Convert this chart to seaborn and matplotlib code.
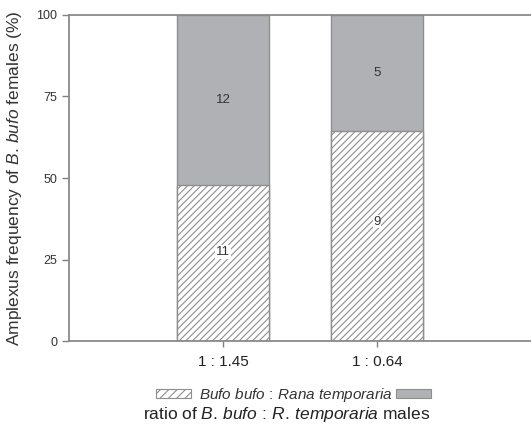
import matplotlib
matplotlib.use('Agg')
import matplotlib.pyplot as plt
import seaborn as sns
import pandas as pd
from matplotlib.patches import Patch

# данные: число пар в амплексусе
ratios = ['1 : 1.45', '1 : 0.64']
bufo_counts = [11, 9]
rana_counts = [12, 5]

df = pd.DataFrame({'ratio': ratios, 'bufo': bufo_counts, 'rana': rana_counts})
df['total'] = df['bufo'] + df['rana']
df['bufo_pct'] = 100 * df['bufo'] / df['total']
df['all_pct'] = 100.0

sns.set_style('ticks')
plt.rcParams['font.family'] = ['Liberation Sans', 'DejaVu Sans']
plt.rcParams['mathtext.fontset'] = 'custom'
plt.rcParams['mathtext.rm'] = 'Liberation Sans'
plt.rcParams['mathtext.it'] = 'Liberation Sans:italic'
plt.rcParams['hatch.color'] = '#8a8a8a'
plt.rcParams['hatch.linewidth'] = 0.8

grey = '#b0b1b5'
edge = '#8e8e8e'

fig = plt.figure(figsize=(5.31, 4.32), dpi=100)
ax = fig.add_axes([0.130, 0.2106, 0.870, 0.7547])

# верхняя часть (Rana) - рисуем полный столбец серым
sns.barplot(data=df, x='ratio', y='all_pct', color=grey, width=0.6,
            edgecolor=edge, linewidth=1.0, saturation=1, ax=ax)
n_top = len(ax.patches)
# нижняя часть (Bufo) - штриховка
sns.barplot(data=df, x='ratio', y='bufo_pct', color='white', width=0.6,
            edgecolor=edge, linewidth=1.0, saturation=1, ax=ax)
for p in ax.patches[n_top:]:
    p.set_hatch('/////')

# подписи с числом пар
for i, row in df.iterrows():
    ax.text(i, (row['bufo_pct'] + 100) / 2, str(row['rana']), ha='center', va='center',
            fontsize=9.5, color='#333333')
    ax.text(i, row['bufo_pct'] * 0.57, str(row['bufo']), ha='center', va='center',
            fontsize=9.5, color='#333333',
            bbox=dict(facecolor='white', edgecolor='none', pad=0.6))

ax.set_xlim(-1.0, 2.0)
ax.set_ylim(0, 100)
ax.set_yticks([0, 25, 50, 75, 100])
ax.tick_params(axis='y', labelsize=9, colors='#808080', labelcolor='#333333', length=5, width=1)
ax.tick_params(axis='x', labelsize=11, colors='#808080', labelcolor='#222222', length=4, width=1, pad=6)
for s in ['left', 'bottom', 'top']:
    ax.spines[s].set_color('#8a8a8a')
    ax.spines[s].set_linewidth(1.3)
ax.spines['top'].set_visible(True)
ax.spines['right'].set_visible(False)

ax.set_xlabel('')
ax.set_ylabel(r'$\mathrm{Amplexus\ frequency\ of\ }\mathit{B.\!\ bufo}\mathrm{\ females\ (\%)}$',
              fontsize=12.5, color='#333333', labelpad=9)

handles = [Patch(facecolor='white', edgecolor=edge, hatch='////', linewidth=0.8),
           Patch(facecolor=grey, edgecolor=edge, linewidth=0.8)]
labels = [r'$\mathit{Bufo\ bufo}\,:\,\mathit{Rana\ temporaria}$', '']
fig.legend(handles, labels, loc='center', bbox_to_anchor=(0.56, 0.086), ncol=2,
           frameon=False, fontsize=11, handlelength=2.3, handleheight=0.55,
           handletextpad=0.5, columnspacing=0.2, labelcolor='#333333')

fig.text(0.54, 0.041,
         r'$\mathrm{ratio\ of\ }\mathit{B.\!\ bufo}\,:\,\mathit{R.\!\ temporaria}\mathrm{\ males}$',
         ha='center', va='center', fontsize=12.5, color='#222222')

fig.savefig('out.png', dpi=100)
